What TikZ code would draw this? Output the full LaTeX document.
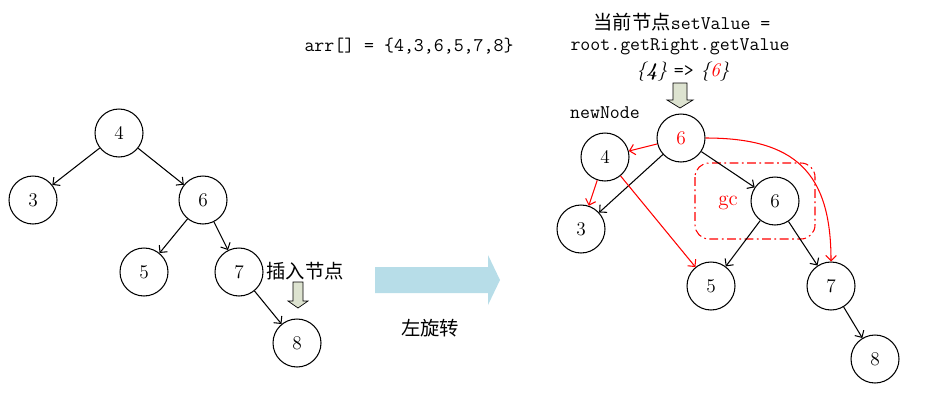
\documentclass[tikz,border=0pt]{standalone}
\usepackage{fontspec}
\usepackage{amsmath,amssymb}
\newfontfamily\cjk{Noto Sans CJK SC}
\usetikzlibrary{arrows.meta,calc,shapes.arrows}
\definecolor{bigarr}{HTML}{B7DDE8}
\definecolor{smallarr}{HTML}{DDE3D0}

\begin{document}
\begin{tikzpicture}[x=0.02cm,y=-0.02cm,semithick,
  >={Straight Barb[length=3pt,width=6pt]},
  nd/.style={draw,circle,minimum size=0.96cm,inner sep=0pt,font=\fontsize{11}{13}\selectfont},
  ed/.style={->},
  red ed/.style={->,red},
  txt/.style={font=\fontsize{11}{13}\selectfont\ttfamily}]
\useasboundingbox (0,0) rectangle (925,413);

% left tree
\node[nd] (l4) at (119,133) {4};
\node[nd] (l3) at (33,200) {3};
\node[nd] (l6) at (203,200) {6};
\node[nd] (l5) at (144,272) {5};
\node[nd] (l7) at (239,272) {7};
\node[nd] (l8) at (297,343) {8};
\draw[ed] (l4)--(l3);
\draw[ed] (l4)--(l6);
\draw[ed] (l6)--(l5);
\draw[ed] (l6)--(l7);
\draw[ed] (l7)--(l8);
\node (ins) at (305,271) {\cjk\fontsize{11}{13}\selectfont 插入节点};
\draw[thin,fill=smallarr] (293,282)--(303,282)--(303,301)--(308,301)--(298,308)--(288,301)--(293,301)--cycle;

% text on top
\node[txt] (arr) at (409,46) {arr[] = \{4,3,6,5,7,8\}};
\node[txt] (t1) at (682,22) {{\cjk 当前节点}setValue =};
\node[txt] (t2) at (680,47) {root.getRight.getValue};
\node (t3) at (683,72) {\fontsize{11}{13}\selectfont\itshape \{{\bfseries 4}\} \texttt{\upshape=>} \{\textcolor{red}{6}\}};
\draw[thin,fill=smallarr] (673,83)--(687,83)--(687,100)--(693,100)--(680,108)--(667,100)--(673,100)--cycle;
\node[txt] (nn) at (605,113) {newNode};

% big arrow
\fill[bigarr] (375,267)--(488,267)--(488,255)--(500,280)--(488,305)--(488,293)--(375,293)--cycle;
\node (rot) at (430,328) {\cjk\fontsize{11}{13}\selectfont 左旋转};

% right tree
\draw[red,dash pattern=on 5pt off 2pt on 1pt off 2pt,rounded corners=8] (695,163) rectangle (815,239);
\node[red] (gc) at (728,203) {\fontsize{12}{14}\selectfont gc};
\node[nd,text=red] (r6) at (681,138) {6};
\node[nd] (r4) at (605,157) {4};
\node[nd] (r3) at (581,229) {3};
\node[nd] (r6b) at (775,201) {6};
\node[nd] (r5) at (711,286) {5};
\node[nd] (r7) at (831,286) {7};
\node[nd] (r8) at (875,359) {8};
\draw[ed] (r6)--(r3);
\draw[ed] (r6)--(r6b);
\draw[ed] (r6b)--(r5);
\draw[ed] (r6b)--(r7);
\draw[ed] (r7)--(r8);
\draw[red ed] (r6)--(r4);
\draw[red ed] (r4)--(r3);
\draw[red ed] (r4)--(r5);
\draw[red ed] (r6.east) to[out=0,in=90,looseness=1.3] (r7.north);
\end{tikzpicture}
\end{document}
